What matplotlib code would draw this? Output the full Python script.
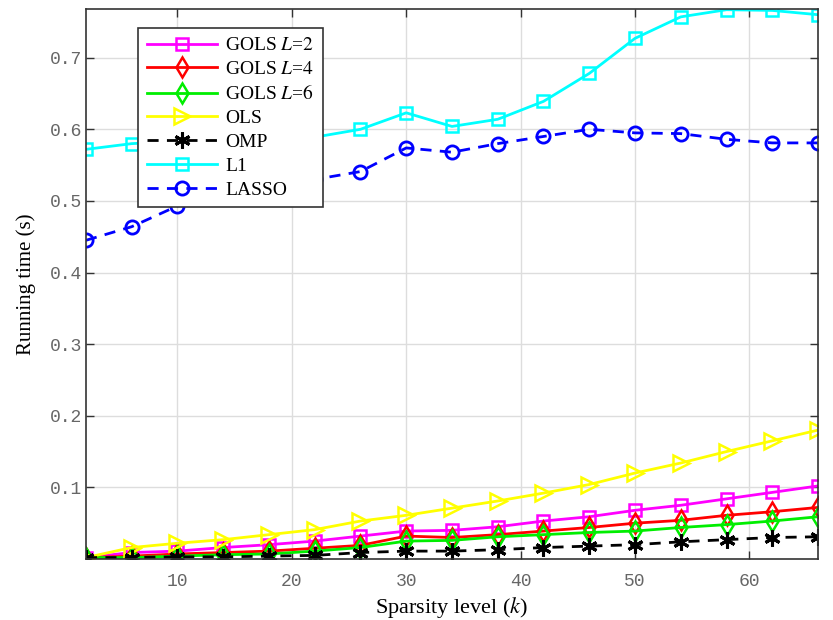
import numpy as np
import matplotlib
matplotlib.use("Agg")
import matplotlib.pyplot as plt

plt.rcParams['mathtext.fontset'] = 'stix'

# sparsity levels
k = [2, 6, 10, 14, 18, 22, 26, 30, 34, 38, 42, 46, 50, 54, 58, 62, 66]

# running times (s)
gols2 = [0.002, 0.009, 0.011, 0.016, 0.020, 0.025, 0.032, 0.039, 0.040,
         0.045, 0.053, 0.059, 0.068, 0.075, 0.084, 0.093, 0.102]
gols4 = [0.002, 0.004, 0.007, 0.009, 0.011, 0.015, 0.019, 0.032, 0.030,
         0.034, 0.039, 0.044, 0.050, 0.054, 0.061, 0.066, 0.072]
gols6 = [0.002, 0.002, 0.004, 0.006, 0.007, 0.011, 0.016, 0.025, 0.026,
         0.031, 0.034, 0.037, 0.039, 0.044, 0.048, 0.053, 0.059]
ols = [0.002, 0.016, 0.022, 0.027, 0.034, 0.041, 0.053, 0.061, 0.071,
       0.081, 0.092, 0.104, 0.120, 0.134, 0.150, 0.165, 0.180]
omp = [0.002, 0.002, 0.003, 0.003, 0.004, 0.005, 0.009, 0.011, 0.011,
       0.013, 0.016, 0.018, 0.020, 0.024, 0.027, 0.030, 0.031]
l1 = [0.572, 0.580, 0.583, 0.585, 0.586, 0.589, 0.600, 0.623, 0.604,
      0.614, 0.639, 0.678, 0.727, 0.757, 0.767, 0.766, 0.760]
lasso = [0.445, 0.464, 0.493, 0.507, 0.520, 0.530, 0.541, 0.574, 0.568,
         0.580, 0.590, 0.600, 0.595, 0.594, 0.586, 0.581, 0.581]

xticks = [10, 20, 30, 40, 50, 60]
yticks = [0.1, 0.2, 0.3, 0.4, 0.5, 0.6, 0.7]

fig = plt.figure(figsize=(8.33, 6.2), dpi=100)
ax = fig.add_axes([0.1032, 0.0984, 0.8788, 0.8871])

lw = 2.0
ms = 8.5
dash = (0, (4, 3))
ax.plot(k, gols2, color='magenta', marker='s', mfc='none', mew=1.8, ms=ms, lw=lw,
        label=r'GOLS $L$=$\mathit{2}$')
ax.plot(k, gols4, color='red', marker='d', mfc='none', mew=1.8, ms=ms + 2, lw=lw,
        label=r'GOLS $L$=$\mathit{4}$')
ax.plot(k, gols6, color='#00ee00', marker='d', mfc='none', mew=1.8, ms=ms + 2, lw=lw,
        label=r'GOLS $L$=$\mathit{6}$')
ax.plot(k, ols, color='yellow', marker='>', mfc='none', mew=1.8, ms=ms + 3, lw=lw,
        label='OLS')
ax.plot(k, omp, color='black', marker=(6, 2, 0), mew=2.2, ms=ms + 3, lw=lw,
        linestyle=dash, label='OMP')
ax.plot(k, l1, color='cyan', marker='s', mfc='none', mew=1.8, ms=ms, lw=lw,
        label='L1')
ax.plot(k, lasso, color='blue', marker='o', mfc='none', mew=2.0, ms=ms + 1, lw=lw,
        linestyle=dash, label='LASSO')

ax.set_xlim(2, 66)
ax.set_ylim(0, 0.768)
ax.set_xticks(xticks)
ax.set_yticks(yticks)
ax.set_xticklabels([str(t) for t in xticks])
ax.set_yticklabels(['%.1f' % t for t in yticks])
for lab in ax.get_xticklabels() + ax.get_yticklabels():
    lab.set_family('Liberation Mono')
    lab.set_fontsize(13)
    lab.set_color('#666666')

ax.tick_params(direction='in', top=True, right=True, length=6, width=1, color='#333333')
ax.tick_params(axis='x', pad=10)
ax.tick_params(axis='y', pad=3)
ax.grid(True, color='#dddddd', lw=1)
ax.set_axisbelow(True)
for sp in ax.spines.values():
    sp.set_color('#333333')
    sp.set_linewidth(1.2)

ax.set_xlabel(r'Sparsity level ($k$)', family='Liberation Serif', fontsize=16, labelpad=4)
ax.set_ylabel('Running time (s)', family='Liberation Serif', fontsize=15, labelpad=10)

leg = ax.legend(loc='upper left', bbox_to_anchor=(0.071, 0.9655), borderaxespad=0,
                prop={'family': 'Liberation Serif', 'size': 14},
                fancybox=False, edgecolor='#333333', framealpha=1, handlelength=3.6,
                labelspacing=0.32, borderpad=0.45, handletextpad=0.45)
leg.get_frame().set_linewidth(1.2)

fig.savefig('out.png', dpi=100)
